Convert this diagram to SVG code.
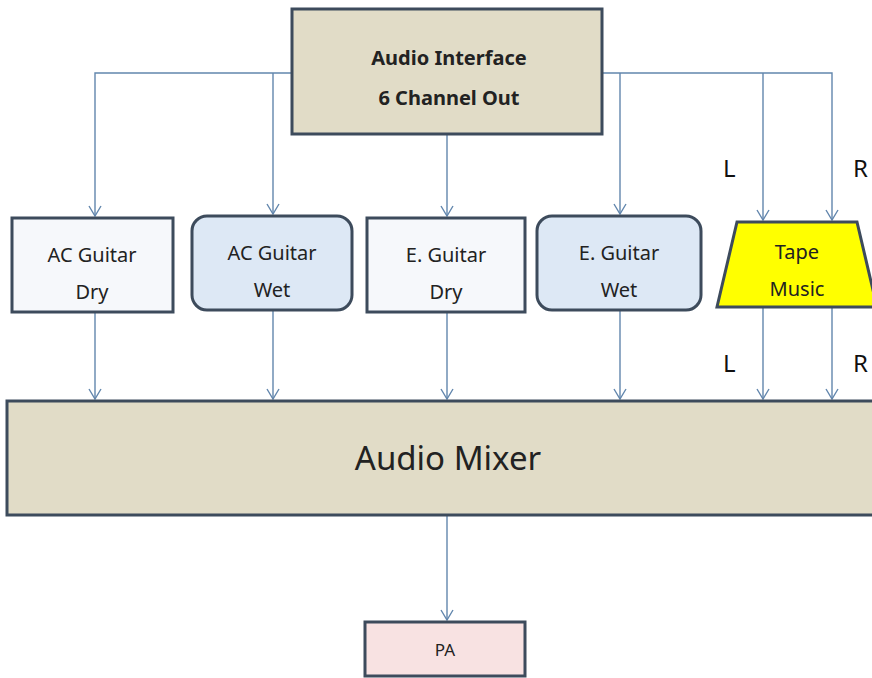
<svg xmlns="http://www.w3.org/2000/svg" width="872" height="678" viewBox="0 0 872 678">
<style>
.box{stroke:#3d4b5c;stroke-width:3}
.c{fill:none;stroke:#6286ad;stroke-width:1.4}
.t{font-family:"Noto Sans","Liberation Sans",sans-serif;fill:#222;text-anchor:middle}
.lr{font-family:"Noto Sans","Liberation Sans",sans-serif;fill:#111;font-size:24px}
</style>
<defs>
<marker id="a" markerWidth="12" markerHeight="14" refX="11" refY="7" orient="auto" markerUnits="userSpaceOnUse" viewBox="0 0 12 14">
<path d="M1,1 L11,7 L1,13" fill="none" stroke="#6286ad" stroke-width="1.4"/>
</marker>
</defs>
<rect width="872" height="678" fill="#fff"/>
<g id="connectors">
<path class="c" d="M292,73 H95 V216" marker-end="url(#a)"/>
<path class="c" d="M273,73 V214" marker-end="url(#a)"/>
<path class="c" d="M447,134 V216" marker-end="url(#a)"/>
<path class="c" d="M602,73 H832 V220" marker-end="url(#a)"/>
<path class="c" d="M620,73 V214" marker-end="url(#a)"/>
<path class="c" d="M763,73 V220" marker-end="url(#a)"/>
<path class="c" d="M95,312 V399" marker-end="url(#a)"/>
<path class="c" d="M273,310 V399" marker-end="url(#a)"/>
<path class="c" d="M447,312 V399" marker-end="url(#a)"/>
<path class="c" d="M620,310 V399" marker-end="url(#a)"/>
<path class="c" d="M763,307 V399" marker-end="url(#a)"/>
<path class="c" d="M832,307 V399" marker-end="url(#a)"/>
<path class="c" d="M447,515 V620" marker-end="url(#a)"/>
</g>
<g id="interface">
<rect class="box" x="292" y="9" width="310" height="125" fill="#e1dcc7"/>
<text class="t" x="449" y="65" font-size="20" font-weight="bold">Audio Interface</text>
<text class="t" x="449" y="105" font-size="20" font-weight="bold">6 Channel Out</text>
</g>
<g id="ac-dry">
<rect class="box" x="12" y="218" width="161" height="94" fill="#f6f8fb"/>
<text class="t" x="92" y="262" font-size="20">AC Guitar</text>
<text class="t" x="92" y="299" font-size="20">Dry</text>
</g>
<g id="ac-wet">
<rect class="box" x="192" y="216" width="160" height="94" rx="15" fill="#dde8f5"/>
<text class="t" x="272" y="260" font-size="20">AC Guitar</text>
<text class="t" x="272" y="297" font-size="20">Wet</text>
</g>
<g id="e-dry">
<rect class="box" x="367" y="218" width="158" height="94" fill="#f6f8fb"/>
<text class="t" x="446" y="262" font-size="20">E. Guitar</text>
<text class="t" x="446" y="299" font-size="20">Dry</text>
</g>
<g id="e-wet">
<rect class="box" x="537" y="216" width="164" height="94" rx="15" fill="#dde8f5"/>
<text class="t" x="619" y="260" font-size="20">E. Guitar</text>
<text class="t" x="619" y="297" font-size="20">Wet</text>
</g>
<g id="tape">
<polygon class="box" points="737,222 857,222 877,307 717,307" fill="#ffff00" stroke="#4a4a30"/>
<text class="t" x="797" y="259" font-size="20">Tape</text>
<text class="t" x="797" y="296" font-size="20">Music</text>
</g>
<text class="lr" x="723" y="177">L</text>
<text class="lr" x="853" y="177">R</text>
<text class="lr" x="723" y="372">L</text>
<text class="lr" x="853" y="372">R</text>
<g id="mixer">
<rect class="box" x="7" y="401" width="880" height="114" fill="#e1dcc7"/>
<text class="t" x="448" y="470" font-size="33">Audio Mixer</text>
</g>
<g id="pa">
<rect class="box" x="365" y="622" width="160" height="54" fill="#f8e2e2"/>
<text class="t" x="445" y="656" font-size="17">PA</text>
</g>
</svg>
